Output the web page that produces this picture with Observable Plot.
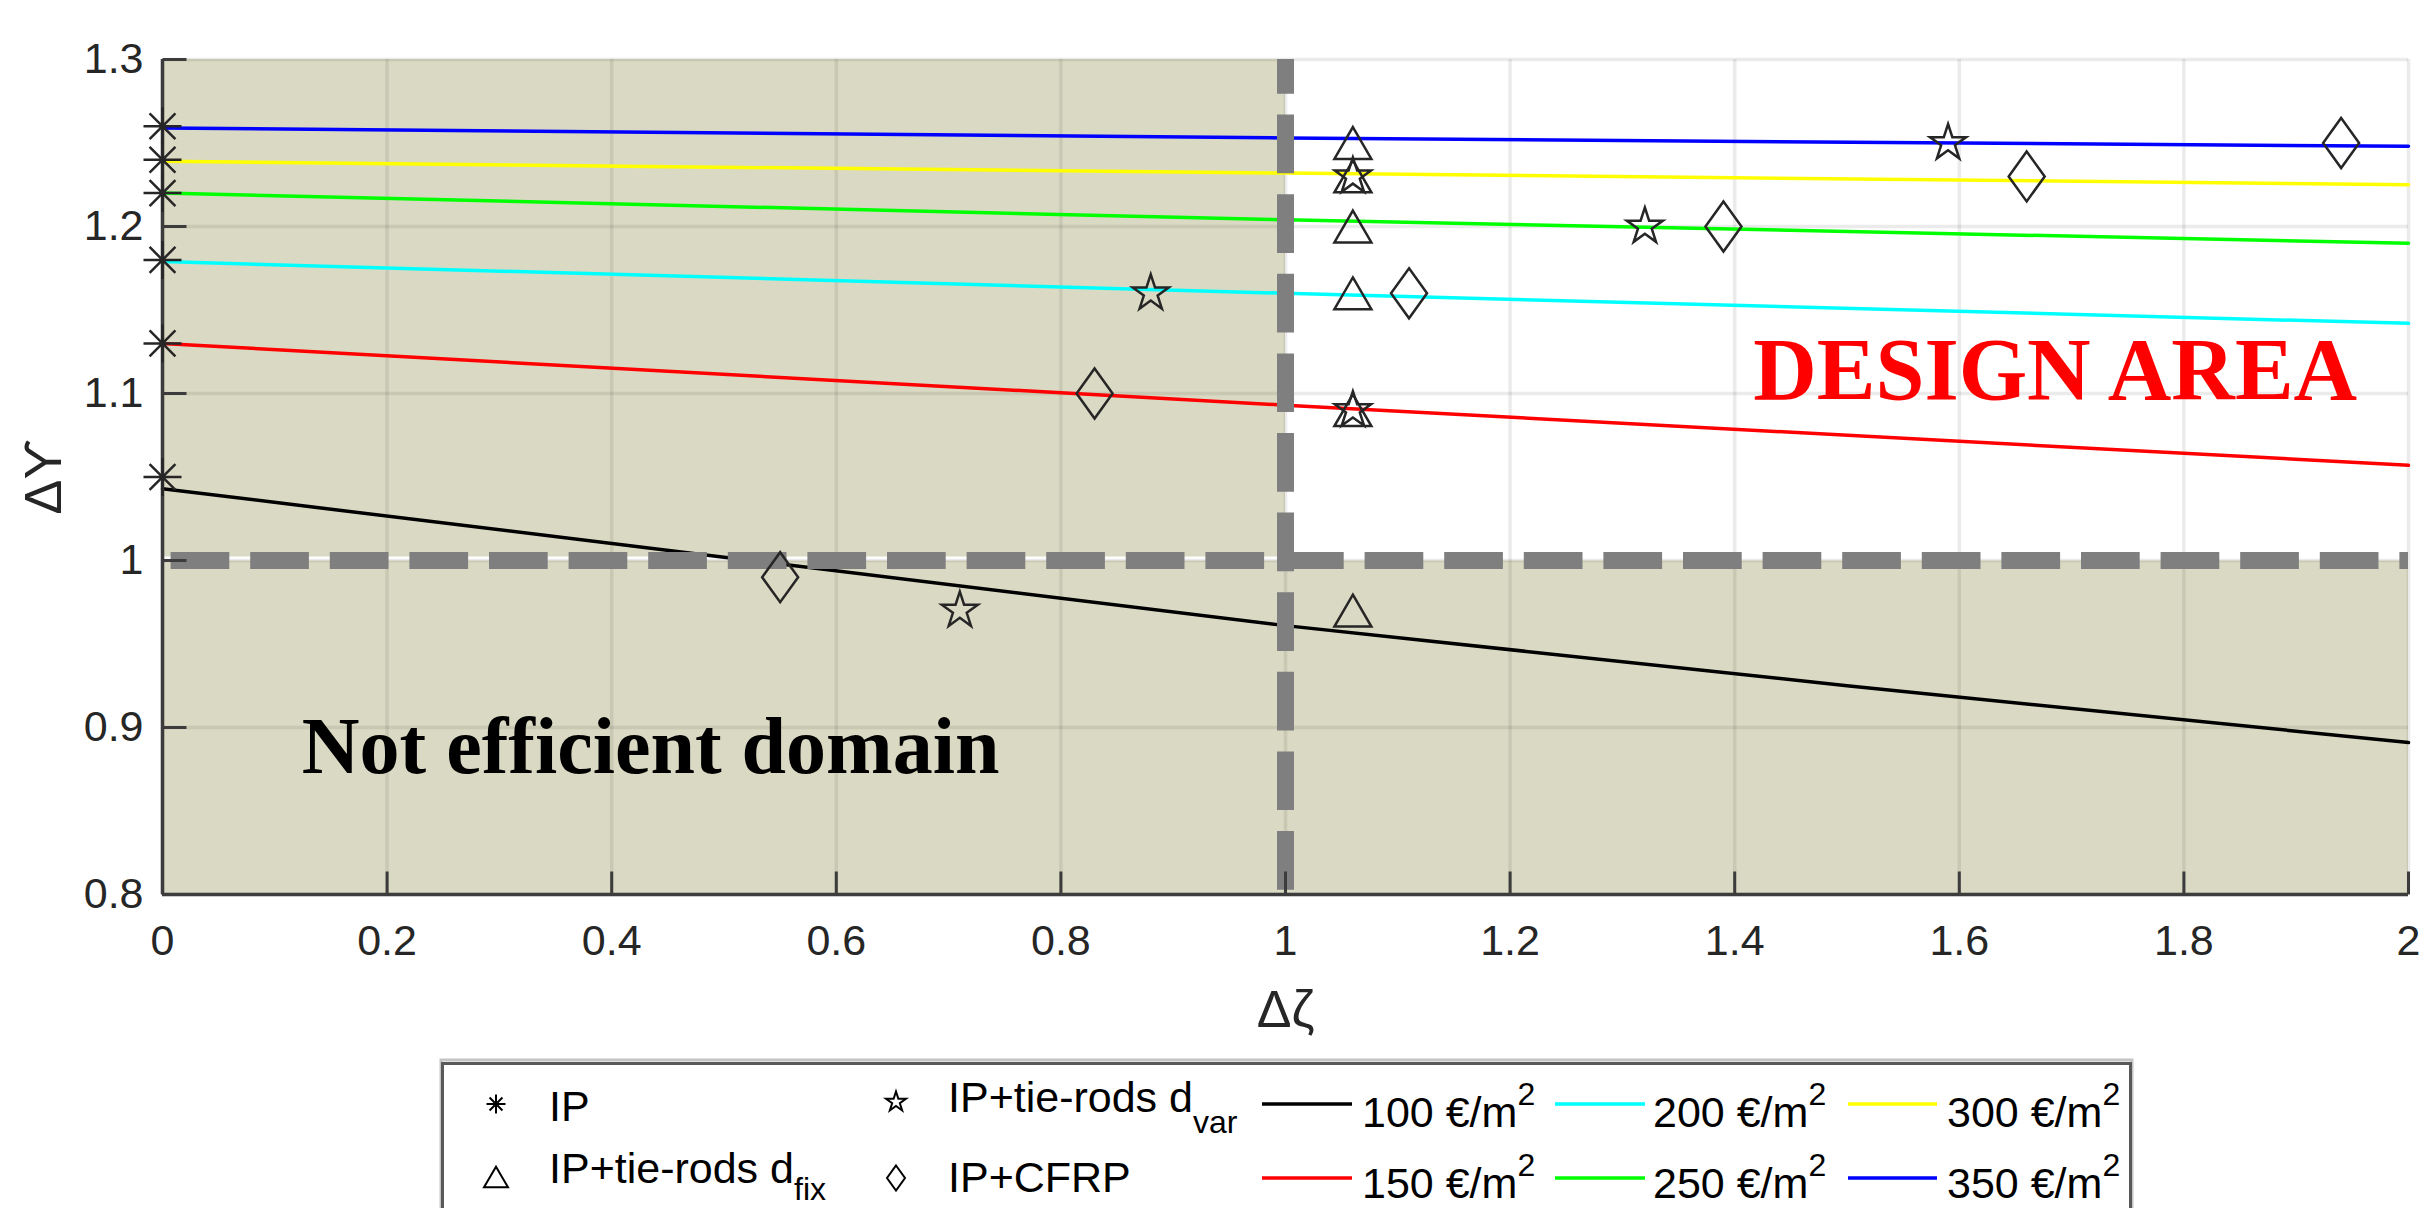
<!DOCTYPE html>
<html>
<head>
<meta charset="utf-8">
<script src="https://cdn.jsdelivr.net/npm/d3@7"></script>
<script src="https://cdn.jsdelivr.net/npm/@observablehq/plot@0.6"></script>
<style>
html, body { margin: 0; padding: 0; background: #fff; overflow: hidden; }
#chart svg, #legend svg { display: block; }
</style>
</head>
<body>
<div id="chart"></div>
<div id="legend"></div>
<script>
// ---------- data ----------
const xTicks = [0, 0.2, 0.4, 0.6, 0.8, 1, 1.2, 1.4, 1.6, 1.8, 2];
const xTickLabels = ["0", "0.2", "0.4", "0.6", "0.8", "1", "1.2", "1.4", "1.6", "1.8", "2"];
const yTicks = [0.8, 0.9, 1, 1.1, 1.2, 1.3];
const yTickLabels = ["0.8", "0.9", "1", "1.1", "1.2", "1.3"];

const costLevels = [100, 150, 200, 250, 300, 350];
const costColors = ["#000000", "#ff0000", "#00ffff", "#00ff00", "#ffff00", "#0000ff"];
const cost100X = [0, 0.5, 1, 1.5, 2];
const cost100Y = [1.043, 1.002, 0.961, 0.925, 0.891];
const costX = [0, 1, 2];
const cost150Y = [1.130, 1.093, 1.057];
const cost200Y = [1.179, 1.160, 1.142];
const cost250Y = [1.220, 1.204, 1.190];
const cost300Y = [1.239, 1.232, 1.225];
const cost350Y = [1.259, 1.253, 1.248];

const ipX = [0, 0, 0, 0, 0, 0];
const ipY = [1.26, 1.24, 1.22, 1.18, 1.13, 1.05];
const fixX = [1.06, 1.06, 1.06, 1.06, 1.06, 1.06];
const fixY = [1.25, 1.23, 1.20, 1.16, 1.09, 0.97];
const varX = [0.71, 0.88, 1.06, 1.06, 1.32, 1.59];
const varY = [0.97, 1.16, 1.09, 1.23, 1.20, 1.25];
const cfrpX = [0.55, 0.83, 1.11, 1.39, 1.66, 1.94];
const cfrpY = [0.99, 1.10, 1.16, 1.20, 1.23, 1.25];

const seriesLabels = ["IP", "IP+tie-rods d", "IP+tie-rods d", "IP+CFRP"];
const seriesSubs = ["", "fix", "var", ""];
const costUnit = " €/m";

// shaded "not efficient" regions (data units)
const shadeX1 = [0, 0];
const shadeX2 = [2, 1];
const shadeY1 = [0.8, 1.0];
const shadeY2 = [1.0, 1.3];

// ---------- derived tables ----------
const costSeriesY = [cost100Y, cost150Y, cost200Y, cost250Y, cost300Y, cost350Y];
const costTable = [];
costLevels.forEach((c, k) => {
  const xs = k === 0 ? cost100X : costX;
  xs.forEach((x, i) => costTable.push({x, y: costSeriesY[k][i], cost: c}));
});
const pts = (xs, ys) => xs.map((x, i) => ({x, y: ys[i]}));
const shades = shadeX1.map((x1, i) => ({x1, x2: shadeX2[i], y1: shadeY1[i], y2: shadeY2[i]}));

// ---------- custom marker symbols ----------
const rOf = (size) => Math.sqrt(size / Math.PI);
const asterisk8 = {draw(ctx, size) {
  const r = rOf(size), d = r * 0.68;
  ctx.moveTo(-r, 0); ctx.lineTo(r, 0);
  ctx.moveTo(0, -r); ctx.lineTo(0, r);
  ctx.moveTo(-d, -d); ctx.lineTo(d, d);
  ctx.moveTo(-d, d); ctx.lineTo(d, -d);
}};
const triUp = {draw(ctx, size) {
  const r = rOf(size), h = r * 0.86;
  ctx.moveTo(0, -h); ctx.lineTo(r, h); ctx.lineTo(-r, h); ctx.closePath();
}};
const pentagram = {draw(ctx, size) {
  const R = rOf(size), ri = R * 0.382;
  for (let k = 0; k < 10; k++) {
    const rr = k % 2 === 0 ? R : ri;
    const a = -Math.PI / 2 + k * Math.PI / 5;
    const px = rr * Math.cos(a), py = rr * Math.sin(a);
    if (k === 0) ctx.moveTo(px, py); else ctx.lineTo(px, py);
  }
  ctx.closePath();
}};
const diamondTall = {draw(ctx, size) {
  const h = rOf(size), w = h * 0.72;
  ctx.moveTo(0, -h); ctx.lineTo(w, 0); ctx.lineTo(0, h); ctx.lineTo(-w, 0); ctx.closePath();
}};
const tickRight = {draw(ctx) { ctx.moveTo(0, 0); ctx.lineTo(24, 0); }};
const tickUp = {draw(ctx) { ctx.moveTo(0, 0); ctx.lineTo(0, -23); }};
const seriesSymbols = [asterisk8, triUp, pentagram, diamondTall];

const axisColor = "#3c3c3c";
const markStroke = "#262626";

// ---------- chart ----------
const chart = Plot.plot({
  width: 2425,
  height: 1050,
  marginLeft: 162,
  marginRight: 17,
  marginTop: 59,
  marginBottom: 156,
  x: {domain: [0, 2], label: null},
  y: {domain: [0.8, 1.3], label: null},
  color: {type: "ordinal", domain: costLevels, range: costColors},
  style: {fontFamily: "'Liberation Sans', Arial, Helvetica, sans-serif", fontSize: "43px", color: "#262626", background: "#fff"},
  marks: [
    Plot.rect(shades, {x1: "x1", x2: "x2", y1: "y1", y2: "y2", fill: "#dad9c3"}),
    Plot.ruleY([1], {stroke: "#fff", strokeWidth: 4, dy: -2}),
    Plot.ruleX(xTicks, {stroke: "#000", strokeOpacity: 0.08, strokeWidth: 3.5}),
    Plot.ruleY(yTicks, {stroke: "#000", strokeOpacity: 0.08, strokeWidth: 3.5}),
    Plot.line(costTable, {x: "x", y: "y", z: "cost", stroke: "cost", strokeWidth: 3.5}),
    Plot.ruleY([1], {stroke: "#7f7f7f", strokeWidth: 17, strokeDasharray: "58.7,20.9", strokeDashoffset: 71}),
    Plot.ruleX([1], {stroke: "#7f7f7f", strokeWidth: 17, strokeDasharray: "58.7,20.9", strokeDashoffset: 24}),
    Plot.ruleX([0], {stroke: axisColor, strokeWidth: 3.5}),
    Plot.ruleY([0.8], {stroke: axisColor, strokeWidth: 3.5}),
    Plot.dot(yTicks, {x: () => 0, y: d => d, symbol: tickRight, r: 1, stroke: axisColor, strokeWidth: 3}),
    Plot.dot(xTicks, {x: d => d, y: () => 0.8, symbol: tickUp, r: 1, stroke: axisColor, strokeWidth: 3}),
    Plot.axisY({ticks: yTicks, tickSize: 0, tickPadding: 19, label: null,
      tickFormat: d => yTickLabels[yTicks.indexOf(d)], fill: "#262626", fontSize: 43}),
    Plot.axisX({ticks: xTicks, tickSize: 0, tickPadding: 30, label: null,
      tickFormat: d => xTickLabels[xTicks.indexOf(d)], fill: "#262626", fontSize: 43}),
    Plot.dot(pts(ipX, ipY), {x: "x", y: "y", r: 19, symbol: asterisk8, stroke: markStroke, strokeWidth: 2.5, fill: "none"}),
    Plot.dot(pts(fixX, fixY), {x: "x", y: "y", r: 18.5, symbol: triUp, stroke: markStroke, strokeWidth: 2.5, fill: "none"}),
    Plot.dot(pts(varX, varY), {x: "x", y: "y", r: 19, symbol: pentagram, stroke: markStroke, strokeWidth: 2.5, fill: "none"}),
    Plot.dot(pts(cfrpX, cfrpY), {x: "x", y: "y", r: 25, symbol: diamondTall, stroke: markStroke, strokeWidth: 2.5, fill: "none"}),
    Plot.text(["DESIGN AREA"], {x: 1.4165, y: 1.097, text: d => d, textAnchor: "start", lineAnchor: "bottom",
      fontFamily: "'Liberation Serif', 'Times New Roman', serif", fontWeight: "bold", fontSize: 88, fill: "#ff0000"}),
    Plot.text(["Not efficient domain"], {x: 0.124, y: 0.8727, text: d => d, textAnchor: "start", lineAnchor: "bottom",
      fontFamily: "'Liberation Serif', 'Times New Roman', serif", fontWeight: "bold", fontSize: 80, fill: "#000"}),
    Plot.text(["Δζ"], {frameAnchor: "bottom", dy: 132, text: d => d, lineAnchor: "bottom", fontSize: 52, fill: "#262626",
      fontFamily: "'Liberation Sans', 'DejaVu Sans', sans-serif"}),
    Plot.text(["Δϒ"], {frameAnchor: "left", dx: -118, rotate: -90, text: d => d, textAnchor: "middle", lineAnchor: "middle",
      fontSize: 52, fill: "#262626", fontFamily: "'Liberation Sans', 'DejaVu Sans', sans-serif"})
  ]
});
document.getElementById("chart").appendChild(chart);

// ---------- legend (below the plot SVG) ----------
const oy = 1050;
const leg = d3.select("#legend").append("svg")
  .attr("width", 2425).attr("height", 158)
  .style("font-family", "'Liberation Sans', Arial, Helvetica, sans-serif")
  .style("font-size", "43px");
leg.append("rect").attr("x", 441).attr("y", 1060 - oy).attr("width", 1691).attr("height", 220)
  .attr("fill", "none").attr("stroke", "#c4c4c4").attr("stroke-width", 3);
leg.append("rect").attr("x", 442.5).attr("y", 1063.5 - oy).attr("width", 1688).attr("height", 220)
  .attr("fill", "#fff").attr("stroke", "#595959").attr("stroke-width", 3);

// marker entries
const markerPos = [
  {mx: 496, my: 1104, tx: 549, ty: 1121, r: 9.5},
  {mx: 496, my: 1177, tx: 549, ty: 1183, r: 12},
  {mx: 896, my: 1102, tx: 948, ty: 1112, r: 10.5},
  {mx: 896, my: 1178, tx: 948, ty: 1192, r: 12.5}
];
seriesLabels.forEach((lab, i) => {
  const p = markerPos[i];
  const sym = seriesSymbols[i];
  leg.append("path")
    .attr("d", d3.symbol().type(sym).size(Math.PI * p.r * p.r)())
    .attr("transform", `translate(${p.mx},${p.my - oy})`)
    .attr("fill", "none").attr("stroke", "#000").attr("stroke-width", 2);
  const t = leg.append("text").attr("x", p.tx).attr("y", p.ty - oy).attr("fill", "#000").text(lab);
  if (seriesSubs[i]) t.append("tspan").attr("font-size", "32px").attr("dy", i === 1 ? 17 : 21).text(seriesSubs[i]);
});

// cost line entries
const lineCols = [{x1: 1262, x2: 1352, tx: 1362}, {x1: 1555, x2: 1645, tx: 1653}, {x1: 1848, x2: 1937, tx: 1947}];
const lineRows = [{ly: 1104, ty: 1127}, {ly: 1178, ty: 1198}];
costLevels.forEach((c, k) => {
  const col = lineCols[Math.floor(k / 2)], row = lineRows[k % 2];
  leg.append("line").attr("x1", col.x1).attr("x2", col.x2)
    .attr("y1", row.ly - oy).attr("y2", row.ly - oy)
    .attr("stroke", costColors[k]).attr("stroke-width", 3.5);
  const t = leg.append("text").attr("x", col.tx).attr("y", row.ty - oy).attr("fill", "#000").text(c + costUnit);
  t.append("tspan").attr("font-size", "32px").attr("dy", -22).text("2");
});
</script>
</body>
</html>
